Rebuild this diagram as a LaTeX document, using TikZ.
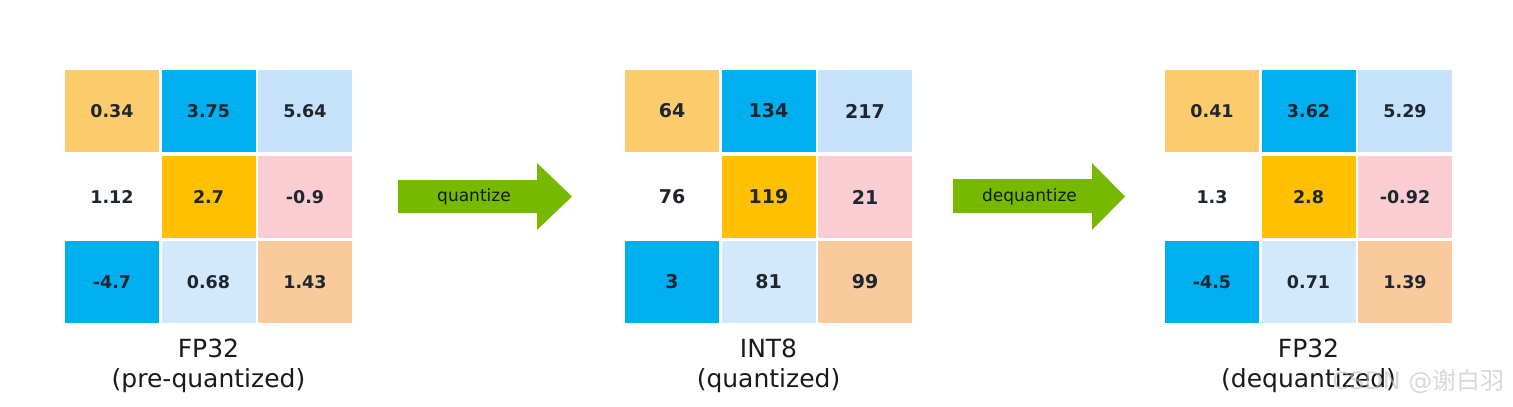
\documentclass[tikz,border=0pt]{standalone}
\usepackage{fontspec}
\setmainfont{DejaVu Sans}
\newfontfamily\cjkfont{Noto Sans CJK SC}
\definecolor{cOrange}{HTML}{FBCB6C}
\definecolor{cBlue}{HTML}{00AFEF}
\definecolor{cLBlue}{HTML}{C6E2FA}
\definecolor{cLLBlue}{HTML}{D1E9FA}
\definecolor{cYellow}{HTML}{FEC000}
\definecolor{cPink}{HTML}{FACDD2}
\definecolor{cPeach}{HTML}{F9CA9C}
\definecolor{cGreen}{HTML}{76B900}
\definecolor{cText}{HTML}{1E2630}
\definecolor{cLabel}{HTML}{1A1A1A}
\tikzset{
  cell/.style={minimum width=94pt, minimum height=82pt, inner sep=0pt, text=cText, font=\fontsize{17.5}{20}\selectfont\bfseries},
  bigcell/.style={cell, font=\fontsize{19}{22}\selectfont\bfseries},
  gridlabel/.style={align=center, text=cLabel, font=\fontsize{25}{30}\selectfont},
  arrowtext/.style={text=black!85!cGreen, font=\fontsize{17}{20}\selectfont},
  blockarrow/.style={fill=cGreen, draw=none},
  wm/.style={text=gray!50, opacity=0.6, font=\fontsize{24}{28}\selectfont}
}
\begin{document}
\begin{tikzpicture}[x=1pt,y=-1pt]
\useasboundingbox[fill=white] (0,0) rectangle (1513,407);
% ---- grid 1
\node[cell, fill=cOrange] (a11) at (112,111) {0.34};
\node[cell, fill=cBlue]   (a12) at (208.5,111) {3.75};
\node[cell, fill=cLBlue]  (a13) at (305,111) {5.64};
\node[cell]               (a21) at (112,197) {1.12};
\node[cell, fill=cYellow] (a22) at (208.5,197) {2.7};
\node[cell, fill=cPink]   (a23) at (305,197) {-0.9};
\node[cell, fill=cBlue]   (a31) at (112,282) {-4.7};
\node[cell, fill=cLLBlue] (a32) at (208.5,282) {0.68};
\node[cell, fill=cPeach]  (a33) at (305,282) {1.43};
\node[gridlabel] (l1) at (208.5,366) {FP32\\(pre-quantized)};
% ---- grid 2
\node[bigcell, fill=cOrange] (b11) at (672,111) {64};
\node[bigcell, fill=cBlue]   (b12) at (768.5,111) {134};
\node[bigcell, fill=cLBlue]  (b13) at (865,111) {217};
\node[bigcell]               (b21) at (672,197) {76};
\node[bigcell, fill=cYellow] (b22) at (768.5,197) {119};
\node[bigcell, fill=cPink]   (b23) at (865,197) {21};
\node[bigcell, fill=cBlue]   (b31) at (672,282) {3};
\node[bigcell, fill=cLLBlue] (b32) at (768.5,282) {81};
\node[bigcell, fill=cPeach]  (b33) at (865,282) {99};
\node[gridlabel] (l2) at (768.5,366) {INT8\\(quantized)};
% ---- grid 3
\node[cell, fill=cOrange] (c11) at (1212,111) {0.41};
\node[cell, fill=cBlue]   (c12) at (1308.5,111) {3.62};
\node[cell, fill=cLBlue]  (c13) at (1405,111) {5.29};
\node[cell]               (c21) at (1212,197) {1.3};
\node[cell, fill=cYellow] (c22) at (1308.5,197) {2.8};
\node[cell, fill=cPink]   (c23) at (1405,197) {-0.92};
\node[cell, fill=cBlue]   (c31) at (1212,282) {-4.5};
\node[cell, fill=cLLBlue] (c32) at (1308.5,282) {0.71};
\node[cell, fill=cPeach]  (c33) at (1405,282) {1.39};
\node[gridlabel] (l3) at (1308.5,366) {FP32\\(dequantized)};
% ---- arrows
\fill[blockarrow] (398,180) -- (537,180) -- (537,163) -- (572,196.5) -- (537,230) -- (537,213) -- (398,213) -- cycle;
\node[arrowtext] (q) at (474,197) {quantize};
\fill[blockarrow] (953,179) -- (1092,179) -- (1092,163) -- (1125,196.5) -- (1092,230) -- (1092,213) -- (953,213) -- cycle;
\node[arrowtext] (dq) at (1029.5,197) {dequantize};
% ---- watermark
\node[wm, anchor=east] (wmk) at (1508,381) {CSDN @{\cjkfont 谢白羽}};
\end{tikzpicture}
\end{document}
